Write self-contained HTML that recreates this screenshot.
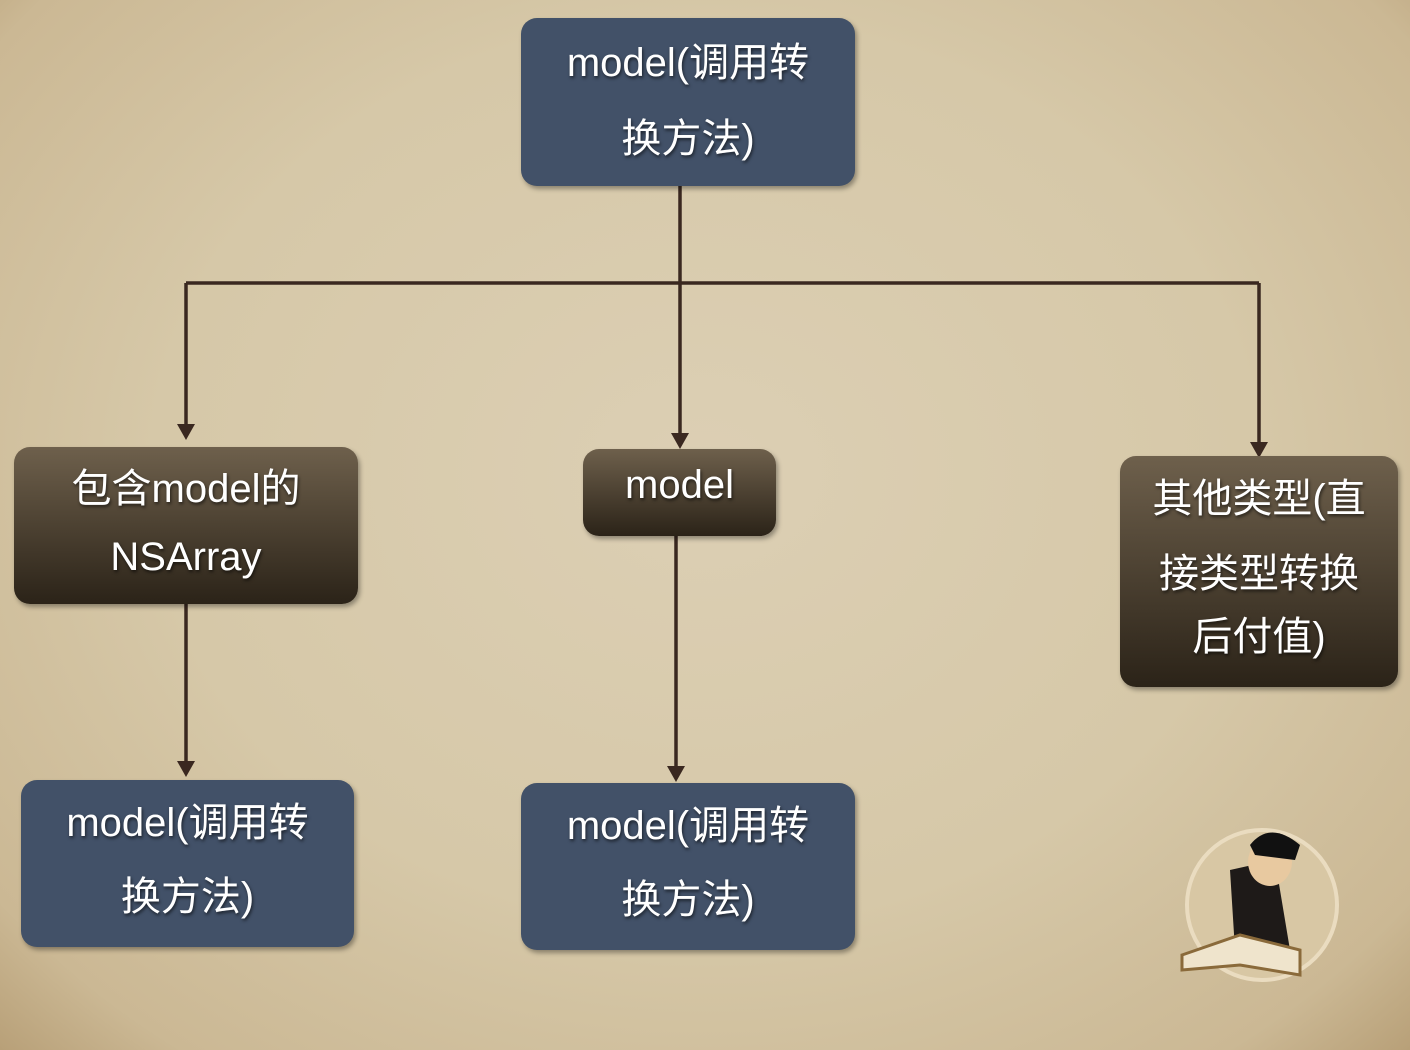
<!DOCTYPE html>
<html><head><meta charset="utf-8"><style>
body{margin:0;width:1410px;height:1050px;overflow:hidden;background:#c9b48e;}
.bg{position:absolute;left:0;top:0;width:1410px;height:1050px;
background:radial-gradient(ellipse at 50% 45%,#dccfb4 0%,#d6c8a8 55%,#cbb894 88%,#b8a078 100%);}
.box{position:absolute;border-radius:16px;color:#fff;text-align:center;
font-family:"Liberation Sans","Noto Sans CJK SC",sans-serif;font-size:40px;
text-shadow:1px 2px 3px rgba(0,0,0,.6);box-shadow:2px 3px 5px rgba(0,0,0,.35);}
.blue{background:#425168;}
.brown{background:linear-gradient(#6e604c,#2b2318);}
.box div{position:absolute;left:0;right:0;}
svg{position:absolute;left:0;top:0;}
</style></head><body>
<div class="bg"></div>
<svg width="1410" height="1050">
<g stroke="#3a2820" stroke-width="3.5" fill="none">
<path d="M680 186V283M186 283H1259M186 283V425M680 283V434M1259 283V443M186 604V762M676 536V767"/>
</g>
<g fill="#3a2820">
<path d="M177 424L195 424L186 440Z"/><path d="M671 433L689 433L680 449Z"/>
<path d="M1250 442L1268 442L1259 458Z"/><path d="M177 761L195 761L186 777Z"/>
<path d="M667 766L685 766L676 782Z"/>
</g>
<circle cx="1262" cy="905" r="75" fill="#d8c7a4" stroke="#eadcc0" stroke-width="4"/>
<path d="M1230 870 L1275 860 L1290 950 L1235 950Z" fill="#1e1a18"/>
<ellipse cx="1270" cy="862" rx="22" ry="24" fill="#e8c9a0"/>
<path d="M1250 845 Q1270 820 1300 845 L1295 860 L1255 855Z" fill="#111"/>
<path d="M1182 955 L1240 935 L1300 950 L1300 975 L1240 965 L1182 970Z" fill="#efe4cc" stroke="#8a6a3a" stroke-width="3"/>
</svg>
<div class="box blue" style="left:521px;top:18px;width:334px;height:168px">
<div style="top:12px">model(调用转</div><div style="top:88px">换方法)</div></div>
<div class="box brown" style="left:14px;top:447px;width:344px;height:157px">
<div style="top:9px">包含model的</div><div style="top:88px">NSArray</div></div>
<div class="box brown" style="left:583px;top:449px;width:193px;height:87px">
<div style="top:14px">model</div></div>
<div class="box brown" style="left:1120px;top:456px;width:278px;height:231px">
<div style="top:10px">其他类型(直</div><div style="top:85px">接类型转换</div><div style="top:148px">后付值)</div></div>
<div class="box blue" style="left:21px;top:780px;width:333px;height:167px">
<div style="top:10px">model(调用转</div><div style="top:84px">换方法)</div></div>
<div class="box blue" style="left:521px;top:783px;width:334px;height:167px">
<div style="top:10px">model(调用转</div><div style="top:84px">换方法)</div></div>
</body></html>
